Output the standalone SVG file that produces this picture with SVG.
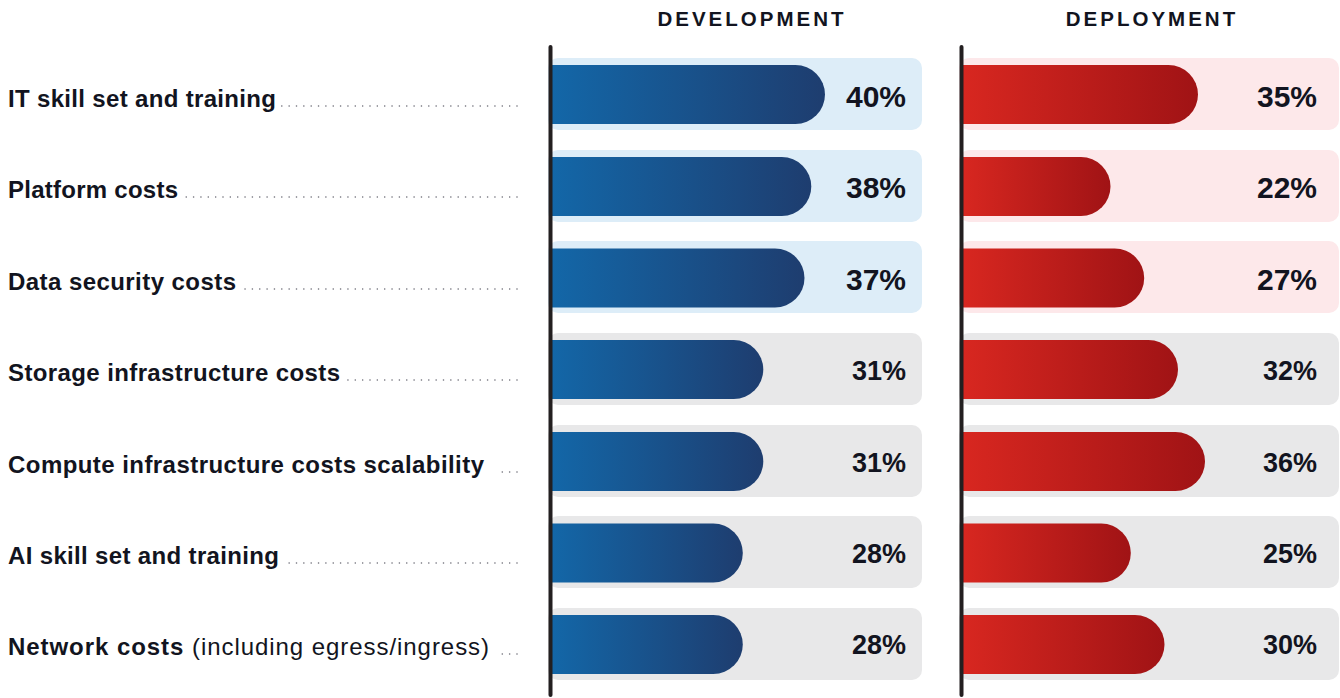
<svg xmlns="http://www.w3.org/2000/svg" width="1340" height="698" viewBox="0 0 1340 698">
<defs>
<linearGradient id="gBlue" x1="0" y1="0" x2="1" y2="0">
<stop offset="0" stop-color="#1367a8"/>
<stop offset="1" stop-color="#1e3d6f"/>
</linearGradient>
<linearGradient id="gRed" x1="0" y1="0" x2="1" y2="0">
<stop offset="0" stop-color="#d82720"/>
<stop offset="1" stop-color="#a01315"/>
</linearGradient>
<style>
.hdr{font-family:"Liberation Sans",Arial,sans-serif;font-weight:700;font-size:20.5px;letter-spacing:3px;fill:#121420;text-anchor:middle}
.lbl{font-family:"Liberation Sans",Arial,sans-serif;font-weight:700;font-size:24px;fill:#121420}
.reg{font-weight:400}
.dots{stroke:#6b6b75;stroke-width:1.6;stroke-linecap:round;stroke-dasharray:0 7.35;fill:none}
.pb{font-family:"Liberation Sans",Arial,sans-serif;font-weight:700;font-size:30px;fill:#121420;text-anchor:end}
.pm{font-family:"Liberation Sans",Arial,sans-serif;font-weight:700;font-size:27px;fill:#121420;text-anchor:end}
.bgB{fill:#ddedf8}
.bgR{fill:#fde8ea}
.bgG{fill:#e8e8e9}
.axis{stroke:#231f20;stroke-width:4;stroke-linecap:round}
</style>
</defs>
<rect width="1340" height="698" fill="#ffffff"/>

<g id="headers">
<text class="hdr" x="752" y="26">DEVELOPMENT</text>
<text class="hdr" x="1152" y="26">DEPLOYMENT</text>
</g>

<g id="row1">
<text class="lbl" x="8" y="107" textLength="268" lengthAdjust="spacing">IT skill set and training</text>
<line class="dots" x1="517" y1="106" x2="280" y2="106"/>
<rect class="bgB" x="548" y="58" width="374" height="72" rx="10"/>
<path d="M551 65 H795.5 A29.5 29.5 0 0 1 795.5 124 H551 Z" fill="url(#gBlue)"/>
<text class="pb" x="906" y="107">40%</text>
<rect class="bgR" x="959" y="58" width="380" height="72" rx="10"/>
<path d="M962 65 H1168.5 A29.5 29.5 0 0 1 1168.5 124 H962 Z" fill="url(#gRed)"/>
<text class="pb" x="1317" y="107">35%</text>
</g>

<g id="row2">
<text class="lbl" x="8" y="198" textLength="170" lengthAdjust="spacing">Platform costs</text>
<line class="dots" x1="517" y1="197" x2="182" y2="197"/>
<rect class="bgB" x="548" y="150" width="374" height="72" rx="10"/>
<path d="M551 157 H781.8 A29.5 29.5 0 0 1 781.8 216 H551 Z" fill="url(#gBlue)"/>
<text class="pb" x="906" y="198">38%</text>
<rect class="bgR" x="959" y="150" width="380" height="72" rx="10"/>
<path d="M962 157 H1081 A29.5 29.5 0 0 1 1081 216 H962 Z" fill="url(#gRed)"/>
<text class="pb" x="1317" y="198">22%</text>
</g>

<g id="row3">
<text class="lbl" x="8" y="290" textLength="228" lengthAdjust="spacing">Data security costs</text>
<line class="dots" x1="517" y1="289" x2="242" y2="289"/>
<rect class="bgB" x="548" y="241" width="374" height="72" rx="10"/>
<path d="M551 248.5 H775 A29.5 29.5 0 0 1 775 307.5 H551 Z" fill="url(#gBlue)"/>
<text class="pb" x="906" y="290">37%</text>
<rect class="bgR" x="959" y="241" width="380" height="72" rx="10"/>
<path d="M962 248.5 H1114.7 A29.5 29.5 0 0 1 1114.7 307.5 H962 Z" fill="url(#gRed)"/>
<text class="pb" x="1317" y="290">27%</text>
</g>

<g id="row4">
<text class="lbl" x="8" y="381" textLength="332" lengthAdjust="spacing">Storage infrastructure costs</text>
<line class="dots" x1="517" y1="380" x2="345" y2="380"/>
<rect class="bgG" x="548" y="333" width="374" height="72" rx="10"/>
<path d="M551 340 H733.8 A29.5 29.5 0 0 1 733.8 399 H551 Z" fill="url(#gBlue)"/>
<text class="pm" x="906" y="380">31%</text>
<rect class="bgG" x="959" y="333" width="380" height="72" rx="10"/>
<path d="M962 340 H1148.5 A29.5 29.5 0 0 1 1148.5 399 H962 Z" fill="url(#gRed)"/>
<text class="pm" x="1317" y="380">32%</text>
</g>

<g id="row5">
<text class="lbl" x="8" y="473" textLength="476" lengthAdjust="spacing">Compute infrastructure costs scalability</text>
<line class="dots" x1="517" y1="472" x2="495" y2="472"/>
<rect class="bgG" x="548" y="425" width="374" height="72" rx="10"/>
<path d="M551 432 H733.8 A29.5 29.5 0 0 1 733.8 491 H551 Z" fill="url(#gBlue)"/>
<text class="pm" x="906" y="472">31%</text>
<rect class="bgG" x="959" y="425" width="380" height="72" rx="10"/>
<path d="M962 432 H1175.5 A29.5 29.5 0 0 1 1175.5 491 H962 Z" fill="url(#gRed)"/>
<text class="pm" x="1317" y="472">36%</text>
</g>

<g id="row6">
<text class="lbl" x="8" y="564" textLength="271" lengthAdjust="spacing">AI skill set and training</text>
<line class="dots" x1="517" y1="563" x2="284" y2="563"/>
<rect class="bgG" x="548" y="516" width="374" height="72" rx="10"/>
<path d="M551 523.5 H713.3 A29.5 29.5 0 0 1 713.3 582.5 H551 Z" fill="url(#gBlue)"/>
<text class="pm" x="906" y="563">28%</text>
<rect class="bgG" x="959" y="516" width="380" height="72" rx="10"/>
<path d="M962 523.5 H1101.3 A29.5 29.5 0 0 1 1101.3 582.5 H962 Z" fill="url(#gRed)"/>
<text class="pm" x="1317" y="563">25%</text>
</g>

<g id="row7">
<text class="lbl" x="8" y="655" textLength="481" lengthAdjust="spacing">Network costs <tspan class="reg">(including egress/ingress)</tspan></text>
<line class="dots" x1="517" y1="654" x2="497" y2="654"/>
<rect class="bgG" x="548" y="608" width="374" height="72" rx="10"/>
<path d="M551 615 H713.3 A29.5 29.5 0 0 1 713.3 674 H551 Z" fill="url(#gBlue)"/>
<text class="pm" x="906" y="654">28%</text>
<rect class="bgG" x="959" y="608" width="380" height="72" rx="10"/>
<path d="M962 615 H1135 A29.5 29.5 0 0 1 1135 674 H962 Z" fill="url(#gRed)"/>
<text class="pm" x="1317" y="654">30%</text>
</g>

<g id="axes">
<line class="axis" x1="550.5" y1="47" x2="550.5" y2="695"/>
<line class="axis" x1="961.5" y1="47" x2="961.5" y2="695"/>
</g>
</svg>
